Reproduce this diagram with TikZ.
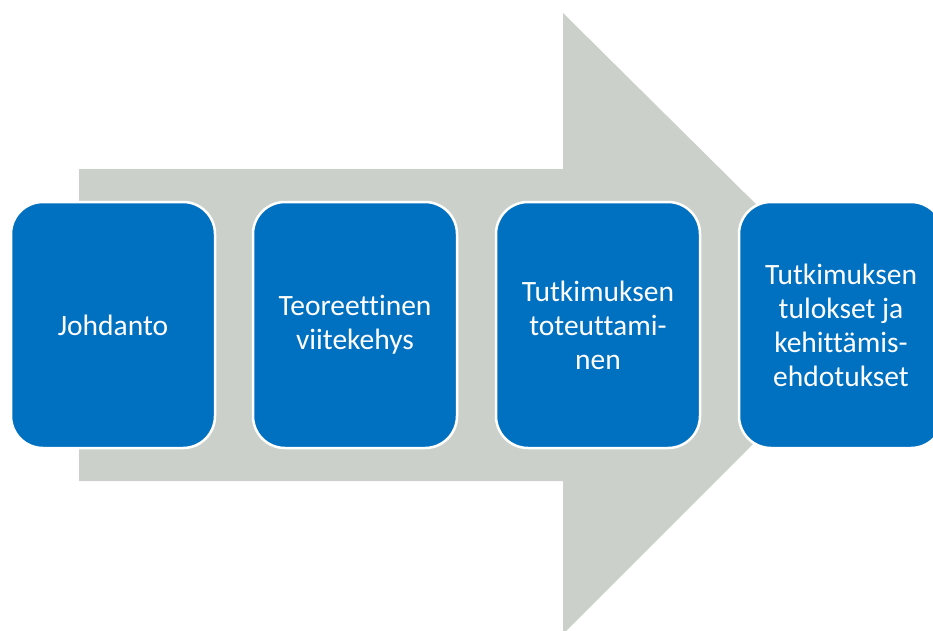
\documentclass[tikz,border=0pt]{standalone}
\usepackage{fontspec}
\setmainfont[Ligatures={NoCommon}]{Carlito}
\definecolor{boxblue}{HTML}{0070C0}
\definecolor{arrowgray}{HTML}{CBD1CA}
\begin{document}
\begin{tikzpicture}[x=1pt,y=-1pt,
  stagebox/.style={draw=white, line width=2.5pt, fill=boxblue, rounded corners=32pt,
    minimum width=204pt, minimum height=246pt, inner sep=0pt,
    text=white, align=center, font=\fontsize{29.5}{34}\selectfont}]
\useasboundingbox (0,0) rectangle (933,630);
\clip (0,0) rectangle (933,630);
\fill[arrowgray] (79,169) -- (563,169) -- (563,13) -- (875,322) -- (563,634) -- (563,481) -- (79,481) -- cycle;
\node[stagebox] (b1) at (113,325) {Johdanto};
\node[stagebox] (b2) at (355,325) {Teoreettinen\\viitekehys};
\node[stagebox] (b3) at (598,325) {Tutkimuksen\\toteuttami-\\nen};
\node[stagebox] (b4) at (841,325) {Tutkimuksen\\tulokset ja\\kehittämis-\\ehdotukset};
\end{tikzpicture}
\end{document}
